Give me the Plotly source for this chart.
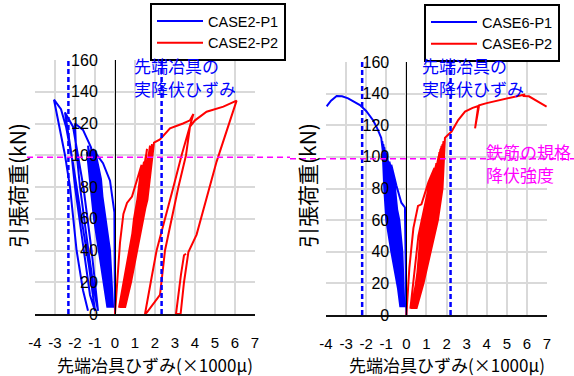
import plotly.graph_objects as go

# ---------------- data (strain x1000μ, load kN) ----------------
case2_p1 = [(0, 0), (0, 30), (-0.03, 64), (-0.25, 84), (-0.6, 95), (-0.95, 101),
            (-0.62, 60), (-0.3, 4), (-0.4, 40), (-0.7, 85), (-1.0, 103),
            (-0.65, 60), (-0.1, 4), (-0.25, 40), (-0.75, 85), (-1.05, 99),
            (-0.72, 60), (-0.25, 4), (-0.4, 40), (-0.8, 85), (-1.1, 104),
            (-0.75, 60), (-0.15, 4), (-0.3, 40), (-0.85, 85), (-1.15, 101),
            (-0.82, 60), (-0.3, 4), (-0.45, 40), (-0.9, 85), (-1.2, 105),
            (-0.85, 60), (-0.2, 4), (-0.35, 40), (-0.95, 85), (-1.25, 100),
            (-0.92, 60), (-0.35, 4), (-0.5, 40), (-1.0, 85), (-1.3, 103),
            (-0.95, 60), (-0.25, 4), (-0.4, 40), (-1.05, 85), (-1.35, 106),
            (-1.0, 60), (-0.3, 4), (-0.45, 40), (-1.1, 85), (-1.4, 102),
            (-1.05, 60), (-0.38, 4),
            (-0.55, 40), (-1.0, 90), (-1.2, 105), (-1.6, 116), (-2.0, 120),
            (-1.95, 105), (-1.75, 80), (-1.33, 40), (-1.05, 15), (-0.85, 2),
            (-1.17, 40), (-1.58, 80), (-1.85, 100), (-2.1, 118), (-2.5, 127),
            (-2.3, 110), (-2.17, 100), (-2.0, 80), (-1.58, 40), (-1.25, 12), (-1.0, 2),
            (-1.3, 30), (-1.7, 62), (-2.1, 95), (-2.45, 118), (-2.7, 129), (-3.05, 135),
            (-2.8, 118), (-2.5, 100), (-2.25, 80), (-1.92, 40), (-1.6, 15), (-1.35, 2)]

case2_p2 = [(0, 0), (0.1, 20), (0.25, 45), (0.42, 63), (0.6, 70), (0.85, 74), (1.1, 84), (1.33, 94),
            (1.0, 60), (0.2, 4), (0.5, 20), (1.15, 72), (1.45, 96),
            (0.95, 60), (0.45, 4), (0.75, 20), (1.25, 72), (1.55, 100),
            (1.05, 60), (0.3, 4), (0.6, 20), (1.3, 72), (1.6, 104),
            (1.1, 60), (0.5, 4), (0.8, 20), (1.35, 72), (1.65, 98),
            (1.15, 60), (0.25, 4), (0.55, 20), (1.45, 72), (1.75, 106),
            (1.25, 60), (0.4, 4), (0.7, 20), (1.5, 72), (1.8, 102),
            (1.3, 60), (0.35, 4), (0.65, 20), (1.55, 72), (1.85, 107),
            (1.35, 60), (0.5, 4), (0.8, 20), (1.6, 72), (1.9, 104),
            (1.4, 60), (0.3, 4), (0.6, 20), (1.62, 72), (1.95, 108),
            (2.25, 110), (2.75, 117), (3.4, 120), (3.75, 122), (3.92, 126),
            (3.33, 100), (2.92, 80), (2.08, 40), (1.83, 23), (1.5, 0),
            (1.6, 1), (2.25, 12), (2.5, 40), (3.17, 80), (3.55, 100), (3.75, 118),
            (4.0, 122), (4.58, 127.4), (5.42, 130.6), (6.08, 134.4),
            (5.08, 96), (4.08, 50), (3.67, 39), (3.45, 20), (3.28, 0),
            (3.05, 0), (3.3, 25), (3.45, 37), (3.55, 38)]

case6_p1 = [(0, 0), (-0.05, 40), (-0.07, 68), (-0.25, 71), (-0.5, 82), (-0.75, 95),
            (-0.65, 80), (-0.55, 60), (-0.35, 40), (-0.15, 5),
            (-0.25, 40), (-0.4, 60), (-0.6, 85), (-0.85, 97),
            (-0.75, 80), (-0.65, 60), (-0.4, 40), (-0.2, 5),
            (-0.3, 40), (-0.45, 60), (-0.7, 85), (-0.95, 99),
            (-0.85, 80), (-0.75, 60), (-0.5, 40), (-0.1, 5),
            (-0.2, 40), (-0.35, 60), (-0.75, 85), (-1.0, 102),
            (-0.9, 80), (-0.8, 60), (-0.55, 40), (-0.25, 5),
            (-0.35, 40), (-0.5, 60), (-0.8, 85), (-1.05, 104),
            (-0.95, 80), (-0.85, 60), (-0.6, 40), (-0.15, 5),
            (-0.25, 40), (-0.4, 60), (-0.85, 85), (-1.1, 106),
            (-1.0, 80), (-0.9, 60), (-0.65, 40), (-0.3, 5),
            (-0.4, 40), (-0.55, 60), (-0.9, 85), (-1.15, 108),
            (-1.05, 80), (-0.95, 60), (-0.7, 40), (-0.2, 5),
            (-0.3, 40), (-0.45, 60), (-0.95, 85), (-1.2, 110),
            (-1.1, 80), (-1.0, 60), (-0.75, 40), (-0.25, 5),
            (-0.35, 40), (-0.5, 60), (-1.0, 85), (-1.25, 112),
            (-1.45, 118), (-1.65, 123), (-2.0, 129), (-2.31, 132.8), (-2.9, 137),
            (-3.2, 138.3), (-3.47, 138.5), (-3.75, 135.5), (-3.97, 132)]

case6_p2 = [(0, 0), (0.15, 30), (0.35, 55), (0.58, 69), (0.75, 70), (1.1, 84), (1.4, 93),
            (1.1, 80), (0.6, 50), (0.2, 4),
            (0.55, 20), (0.9, 40), (1.15, 60), (1.38, 80), (1.5, 96),
            (1.2, 80), (0.7, 50), (0.4, 4),
            (0.75, 20), (1.1, 40), (1.25, 60), (1.48, 80), (1.6, 100),
            (1.3, 80), (0.8, 50), (0.3, 4),
            (0.65, 20), (1.0, 40), (1.3, 60), (1.53, 80), (1.65, 103),
            (1.35, 80), (0.85, 50), (0.5, 4),
            (0.85, 20), (1.2, 40), (1.35, 60), (1.58, 80), (1.7, 105),
            (1.4, 80), (0.9, 50), (0.25, 4),
            (0.6, 20), (0.95, 40), (1.4, 60), (1.63, 80), (1.75, 107),
            (1.45, 80), (0.95, 50), (0.45, 4),
            (0.8, 20), (1.15, 40), (1.45, 60), (1.68, 80), (1.8, 108),
            (1.5, 80), (1.0, 50), (0.35, 4),
            (0.7, 20), (1.05, 40), (1.5, 60), (1.73, 80), (1.85, 110),
            (1.55, 80), (1.05, 50), (0.5, 4),
            (0.85, 20), (1.2, 40), (1.57, 60), (1.8, 80), (1.92, 112),
            (2.0, 113), (2.25, 116), (2.58, 123.3), (2.92, 128.6), (3.3, 131), (3.58, 132.2),
            (3.42, 118), (3.62, 132.6), (4.0, 134), (5.0, 137), (5.66, 138.5), (5.9, 139.5),
            (5.8, 138.5), (6.1, 138.3), (6.98, 131.7)]

series_names = ["CASE2-P1", "CASE2-P2", "CASE6-P1", "CASE6-P2"]
x_ticks = [-4, -3, -2, -1, 0, 1, 2, 3, 4, 5, 6, 7]
x_tick_labels = ["-4", "-3", "-2", "-1", "0", "1", "2", "3", "4", "5", "6", "7"]
y_ticks = [0, 20, 40, 60, 80, 100, 120, 140, 160]
yield_strain_case2 = 2.33     # 先端冶具の実降伏ひずみ (×1000μ)
yield_strain_case6 = 2.2
rebar_yield_load = 98.8       # 鉄筋の規格降伏強度 (kN)

x_title = "先端冶具ひずみ(×1000μ)"
y_title = "引張荷重(kN)"
note_jig = ["先端冶具の", "実降伏ひずみ"]
note_rebar = ["鉄筋の規格", "降伏強度"]

# ---------------- figure ----------------
W, H = 574, 376
BLUE = "#0000ff"
RED = "#ff0000"
MAG = "#ff00ff"
JP = "Noto Sans CJK JP"
LAT = "Liberation Sans"


def xs(p):
    return [a for a, _ in p]


def ys(p):
    return [b for _, b in p]


fig = go.Figure()
for data, name, color, xa, ya, lg in [
    (case2_p1, series_names[0], BLUE, "x", "y", "legend"),
    (case2_p2, series_names[1], RED, "x", "y", "legend"),
    (case6_p1, series_names[2], BLUE, "x2", "y2", "legend2"),
    (case6_p2, series_names[3], RED, "x2", "y2", "legend2"),
]:
    fig.add_trace(go.Scatter(x=xs(data), y=ys(data), mode="lines", name=name,
                             line=dict(color=color, width=2),
                             xaxis=xa, yaxis=ya, legend=lg))


def xax(dom):
    return dict(domain=dom, range=[-4, 7], tickvals=x_ticks, ticktext=x_tick_labels,
                showgrid=True, gridcolor="#d9d9d9", gridwidth=1.5, zeroline=False,
                showline=True, linecolor="#111", linewidth=2, ticks="",
                ticklabelstandoff=14, tickangle=0, automargin=False,
                tickfont=dict(family=LAT, size=15, color="#000"), fixedrange=True)


def yax(dom, pos):
    return dict(domain=dom, range=[0, 160], tickvals=y_ticks, showgrid=True,
                gridcolor="#d9d9d9", gridwidth=1.5, zeroline=False, showline=True,
                linecolor="#000", linewidth=1, ticks="", anchor="free", position=pos,
                side="left", ticklabelstandoff=14, automargin=False, tickangle=0,
                tickfont=dict(family=LAT, size=16, color="#000"), fixedrange=True)


fig.update_layout(
    template="none",
    width=W, height=H, margin=dict(l=0, r=0, t=0, b=0, autoexpand=False),
    paper_bgcolor="white", plot_bgcolor="white",
    xaxis=dict(xax([35 / W, 255 / W]), anchor="y"),
    yaxis=yax([1 - 314 / H, 1 - 60 / H], 115 / W),
    xaxis2=dict(xax([326 / W, 547 / W]), anchor="y2"),
    yaxis2=yax([1 - 315 / H, 1 - 62 / H], 406.4 / W),
    legend=dict(x=150 / W, y=1 - 3 / H, xanchor="left", yanchor="top",
                bordercolor="black", borderwidth=2, bgcolor="white",
                font=dict(family=LAT, size=14.5, color="#000"), itemwidth=46),
    legend2=dict(x=424 / W, y=1 - 4 / H, xanchor="left", yanchor="top",
                 bordercolor="black", borderwidth=2, bgcolor="white",
                 font=dict(family=LAT, size=14.5, color="#000"), itemwidth=46),
)

# reference lines
for xr, yr, ys_ in [("x", "y", yield_strain_case2), ("x2", "y2", yield_strain_case6)]:
    for v in (-ys_, ys_):
        fig.add_shape(type="line", xref=xr, yref=yr, x0=v, x1=v, y0=0, y1=160,
                      line=dict(color=BLUE, width=2.5, dash="5px,3px"))
fig.add_shape(type="line", xref="paper", yref="y", x0=27 / W, x1=290 / W,
              y0=rebar_yield_load, y1=rebar_yield_load,
              line=dict(color=MAG, width=1.5, dash="6px,4px"))
fig.add_shape(type="line", xref="paper", yref="y2", x0=290 / W, x1=1,
              y0=rebar_yield_load, y1=rebar_yield_load,
              line=dict(color=MAG, width=1.5, dash="6px,4px"))

# texts (one annotation per line)
ann = [
    (132, 65, note_jig[0], BLUE), (132, 88, note_jig[1], BLUE),
    (420, 66, note_jig[0], BLUE), (420, 89, note_jig[1], BLUE),
    (484, 151, note_rebar[0], MAG), (484, 174, note_rebar[1], MAG),
]
for px, py, txt, col in ann:
    fig.add_annotation(x=px / W, y=1 - py / H, xref="paper", yref="paper", text=txt,
                       showarrow=False, xanchor="left", yanchor="middle", align="left",
                       font=dict(family=JP, size=17, color=col))

for cx in (155, 447):
    fig.add_annotation(x=cx / W, y=1 - 364 / H, xref="paper", yref="paper", text=x_title,
                       showarrow=False, xanchor="center", yanchor="middle",
                       font=dict(family=JP, size=17, color="#000"))
for cx in (17, 307):
    fig.add_annotation(x=cx / W, y=1 - 186 / H, xref="paper", yref="paper", text=y_title,
                       showarrow=False, xanchor="center", yanchor="middle", textangle=-90,
                       font=dict(family=JP, size=21, color="#000"))

fig.write_html("out.html")
